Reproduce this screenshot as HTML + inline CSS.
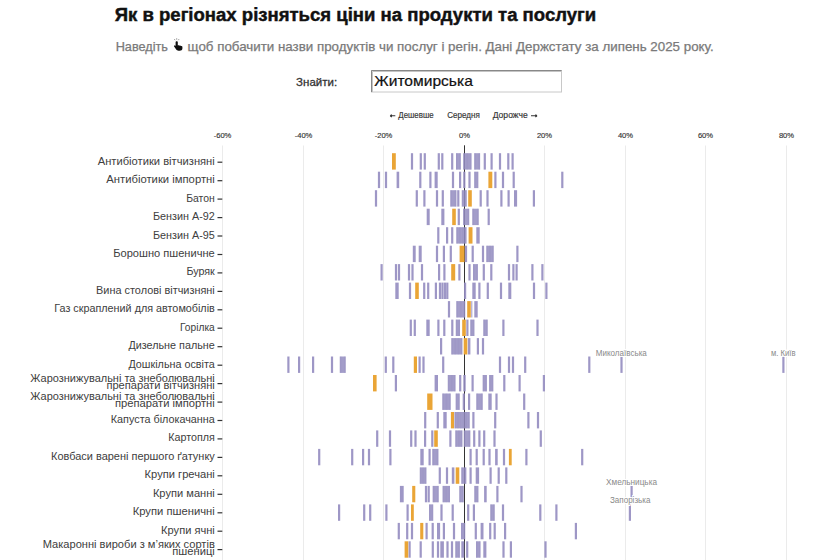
<!DOCTYPE html><html><head><meta charset="utf-8"><style>html,body{margin:0;padding:0;background:#fff;width:814px;height:560px;overflow:hidden}svg{display:block;font-family:"Liberation Sans",sans-serif}</style></head><body>
<svg width="814" height="560" viewBox="0 0 814 560">
<text x="114.7" y="21.2" font-size="18.8" font-weight="bold" fill="#111" stroke="#111" stroke-width="0.45" textLength="481.5" lengthAdjust="spacingAndGlyphs">Як в регіонах різняться ціни на продукти та послуги</text>
<text x="115.7" y="50.6" font-size="12.2" fill="#7a7a7a" stroke="#7a7a7a" stroke-width="0.25" textLength="52.3" lengthAdjust="spacingAndGlyphs">Наведіть</text>
<g transform="translate(172.5,38)" fill="#111"><path d="M4.2 3.2 C4.9 3.2 5.3 3.7 5.3 4.3 L5.3 7.4 C5.6 7.1 6.6 7.1 6.9 7.7 C7.3 7.3 8.3 7.4 8.5 8.1 C8.9 7.8 9.8 8 9.9 8.7 L9.9 10.6 C9.9 12.3 8.6 12.8 7.3 12.8 L5.9 12.8 C4.9 12.8 4.2 12.3 3.7 11.6 L1.6 8.6 C1.3 8.1 1.5 7.5 2 7.4 C2.4 7.3 2.8 7.5 3.1 7.9 L3.1 4.3 C3.1 3.7 3.5 3.2 4.2 3.2Z"/><path d="M4.2 0.2 L4.2 1.8 M1.8 1 L2.6 2.2 M6.6 1 L5.8 2.2" stroke="#777" stroke-width="0.7"/></g>
<text x="187.6" y="50.6" font-size="12.2" fill="#7a7a7a" stroke="#7a7a7a" stroke-width="0.25" textLength="526" lengthAdjust="spacingAndGlyphs">щоб побачити назви продуктів чи послуг і регін. Дані Держстату за липень 2025 року.</text>
<text x="296.1" y="85.7" font-size="11.8" fill="#333" stroke="#333" stroke-width="0.3" textLength="41" lengthAdjust="spacingAndGlyphs">Знайти:</text>
<rect x="371.5" y="70.5" width="190" height="21.5" fill="#fff" stroke="#c8c8c8" stroke-width="1"/>
<path d="M371.5 92 L371.5 70.5 L561.5 70.5" fill="none" stroke="#888" stroke-width="1"/>
<path d="M372.5 92 L372.5 71.5 L561 71.5" fill="none" stroke="#c4c4c4" stroke-width="1"/>
<text x="374.3" y="86.3" font-size="14.2" fill="#111" stroke="#111" stroke-width="0.2" textLength="98.5" lengthAdjust="spacingAndGlyphs">Житомирська</text>
<path d="M390.2 115.8 L395.3 115.8 M390.2 115.8 L391.8 114.6 M390.2 115.8 L391.8 117" stroke="#333" stroke-width="1.1" fill="none"/>
<text x="398.3" y="118.2" font-size="8.2" fill="#333" stroke="#333" stroke-width="0.15" textLength="35.3" lengthAdjust="spacingAndGlyphs">Дешевше</text>
<text x="447.2" y="118.2" font-size="8.2" fill="#333" stroke="#333" stroke-width="0.15" textLength="32.6" lengthAdjust="spacingAndGlyphs">Середня</text>
<text x="492.7" y="118.2" font-size="8.2" fill="#333" stroke="#333" stroke-width="0.15" textLength="35" lengthAdjust="spacingAndGlyphs">Дорожче</text>
<path d="M531 115.8 L537 115.8 M537 115.8 L535.4 114.6 M537 115.8 L535.4 117" stroke="#333" stroke-width="1.1" fill="none"/>
<text x="222.5" y="138" font-size="7.6" fill="#333" stroke="#333" stroke-width="0.15" text-anchor="middle">-60%</text>
<text x="303.5" y="138" font-size="7.6" fill="#333" stroke="#333" stroke-width="0.15" text-anchor="middle">-40%</text>
<text x="383.5" y="138" font-size="7.6" fill="#333" stroke="#333" stroke-width="0.15" text-anchor="middle">-20%</text>
<text x="464.5" y="138" font-size="7.6" fill="#333" stroke="#333" stroke-width="0.15" text-anchor="middle">0%</text>
<text x="544.5" y="138" font-size="7.6" fill="#333" stroke="#333" stroke-width="0.15" text-anchor="middle">20%</text>
<text x="625.5" y="138" font-size="7.6" fill="#333" stroke="#333" stroke-width="0.15" text-anchor="middle">40%</text>
<text x="705.5" y="138" font-size="7.6" fill="#333" stroke="#333" stroke-width="0.15" text-anchor="middle">60%</text>
<text x="786.5" y="138" font-size="7.6" fill="#333" stroke="#333" stroke-width="0.15" text-anchor="middle">80%</text>
<line x1="222.5" y1="145.5" x2="222.5" y2="560" stroke="#ebebeb" stroke-width="1"/>
<line x1="303.5" y1="145.5" x2="303.5" y2="560" stroke="#ebebeb" stroke-width="1"/>
<line x1="383.5" y1="145.5" x2="383.5" y2="560" stroke="#ebebeb" stroke-width="1"/>
<line x1="544.5" y1="145.5" x2="544.5" y2="560" stroke="#ebebeb" stroke-width="1"/>
<line x1="625.5" y1="145.5" x2="625.5" y2="560" stroke="#ebebeb" stroke-width="1"/>
<line x1="705.5" y1="145.5" x2="705.5" y2="560" stroke="#ebebeb" stroke-width="1"/>
<line x1="786.5" y1="145.5" x2="786.5" y2="560" stroke="#ebebeb" stroke-width="1"/>
<line x1="464.5" y1="145.3" x2="464.5" y2="560" stroke="#333" stroke-width="1"/>
<rect x="410.90" y="153.2" width="2.20" height="16.4" fill="#938cc0" fill-opacity="0.9"/>
<rect x="419.70" y="153.2" width="2.20" height="16.4" fill="#938cc0" fill-opacity="0.9"/>
<rect x="423.70" y="153.2" width="2.20" height="16.4" fill="#938cc0" fill-opacity="0.9"/>
<rect x="437.70" y="153.2" width="2.20" height="16.4" fill="#938cc0" fill-opacity="0.9"/>
<rect x="441.20" y="153.2" width="2.20" height="16.4" fill="#938cc0" fill-opacity="0.9"/>
<rect x="451.10" y="153.2" width="2.20" height="16.4" fill="#938cc0" fill-opacity="0.9"/>
<rect x="456.00" y="153.2" width="4.80" height="16.4" fill="#938cc0" fill-opacity="0.85"/>
<rect x="456.00" y="153.2" width="1.6" height="16.4" fill="#938cc0" fill-opacity="0.25"/>
<rect x="459.20" y="153.2" width="1.6" height="16.4" fill="#938cc0" fill-opacity="0.25"/>
<rect x="463.20" y="153.2" width="8.30" height="16.4" fill="#938cc0" fill-opacity="0.85"/>
<rect x="463.20" y="153.2" width="1.6" height="16.4" fill="#938cc0" fill-opacity="0.25"/>
<rect x="466.55" y="153.2" width="1.6" height="16.4" fill="#938cc0" fill-opacity="0.25"/>
<rect x="469.90" y="153.2" width="1.6" height="16.4" fill="#938cc0" fill-opacity="0.25"/>
<rect x="474.20" y="153.2" width="5.90" height="16.4" fill="#938cc0" fill-opacity="0.85"/>
<rect x="474.20" y="153.2" width="1.6" height="16.4" fill="#938cc0" fill-opacity="0.25"/>
<rect x="478.50" y="153.2" width="1.6" height="16.4" fill="#938cc0" fill-opacity="0.25"/>
<rect x="483.70" y="153.2" width="2.20" height="16.4" fill="#938cc0" fill-opacity="0.9"/>
<rect x="490.50" y="153.2" width="2.20" height="16.4" fill="#938cc0" fill-opacity="0.9"/>
<rect x="498.90" y="153.2" width="2.20" height="16.4" fill="#938cc0" fill-opacity="0.9"/>
<rect x="507.20" y="153.2" width="2.20" height="16.4" fill="#938cc0" fill-opacity="0.9"/>
<rect x="511.50" y="153.2" width="2.20" height="16.4" fill="#938cc0" fill-opacity="0.9"/>
<rect x="392.00" y="153.2" width="3.80" height="16.4" fill="#eaa536"/>
<rect x="377.90" y="171.7" width="2.20" height="16.4" fill="#938cc0" fill-opacity="0.9"/>
<rect x="384.90" y="171.7" width="2.20" height="16.4" fill="#938cc0" fill-opacity="0.9"/>
<rect x="396.60" y="171.7" width="2.60" height="16.4" fill="#938cc0" fill-opacity="0.9"/>
<rect x="419.20" y="171.7" width="2.20" height="16.4" fill="#938cc0" fill-opacity="0.9"/>
<rect x="429.30" y="171.7" width="2.20" height="16.4" fill="#938cc0" fill-opacity="0.9"/>
<rect x="434.60" y="171.7" width="3.10" height="16.4" fill="#938cc0" fill-opacity="0.9"/>
<rect x="451.90" y="171.7" width="2.20" height="16.4" fill="#938cc0" fill-opacity="0.9"/>
<rect x="459.00" y="171.7" width="2.20" height="16.4" fill="#938cc0" fill-opacity="0.9"/>
<rect x="463.20" y="171.7" width="2.20" height="16.4" fill="#938cc0" fill-opacity="0.9"/>
<rect x="468.40" y="171.7" width="2.20" height="16.4" fill="#938cc0" fill-opacity="0.9"/>
<rect x="474.20" y="171.7" width="4.10" height="16.4" fill="#938cc0" fill-opacity="0.85"/>
<rect x="474.20" y="171.7" width="1.6" height="16.4" fill="#938cc0" fill-opacity="0.25"/>
<rect x="476.70" y="171.7" width="1.6" height="16.4" fill="#938cc0" fill-opacity="0.25"/>
<rect x="494.30" y="171.7" width="2.20" height="16.4" fill="#938cc0" fill-opacity="0.9"/>
<rect x="501.90" y="171.7" width="2.20" height="16.4" fill="#938cc0" fill-opacity="0.9"/>
<rect x="512.60" y="171.7" width="2.20" height="16.4" fill="#938cc0" fill-opacity="0.9"/>
<rect x="561.20" y="171.7" width="2.20" height="16.4" fill="#938cc0" fill-opacity="0.9"/>
<rect x="488.40" y="171.7" width="3.90" height="16.4" fill="#eaa536"/>
<rect x="374.90" y="190.2" width="2.20" height="16.4" fill="#938cc0" fill-opacity="0.9"/>
<rect x="415.70" y="190.2" width="2.20" height="16.4" fill="#938cc0" fill-opacity="0.9"/>
<rect x="423.30" y="190.2" width="2.20" height="16.4" fill="#938cc0" fill-opacity="0.9"/>
<rect x="435.90" y="190.2" width="2.20" height="16.4" fill="#938cc0" fill-opacity="0.9"/>
<rect x="441.70" y="190.2" width="2.20" height="16.4" fill="#938cc0" fill-opacity="0.9"/>
<rect x="450.30" y="190.2" width="6.10" height="16.4" fill="#938cc0" fill-opacity="0.85"/>
<rect x="450.30" y="190.2" width="1.6" height="16.4" fill="#938cc0" fill-opacity="0.25"/>
<rect x="454.80" y="190.2" width="1.6" height="16.4" fill="#938cc0" fill-opacity="0.25"/>
<rect x="457.20" y="190.2" width="2.20" height="16.4" fill="#938cc0" fill-opacity="0.9"/>
<rect x="461.80" y="190.2" width="4.90" height="16.4" fill="#938cc0" fill-opacity="0.85"/>
<rect x="461.80" y="190.2" width="1.6" height="16.4" fill="#938cc0" fill-opacity="0.25"/>
<rect x="465.10" y="190.2" width="1.6" height="16.4" fill="#938cc0" fill-opacity="0.25"/>
<rect x="479.60" y="190.2" width="2.20" height="16.4" fill="#938cc0" fill-opacity="0.9"/>
<rect x="486.40" y="190.2" width="2.20" height="16.4" fill="#938cc0" fill-opacity="0.9"/>
<rect x="500.30" y="190.2" width="2.20" height="16.4" fill="#938cc0" fill-opacity="0.9"/>
<rect x="507.50" y="190.2" width="2.20" height="16.4" fill="#938cc0" fill-opacity="0.9"/>
<rect x="514.00" y="190.2" width="3.10" height="16.4" fill="#938cc0" fill-opacity="0.9"/>
<rect x="532.80" y="190.2" width="2.20" height="16.4" fill="#938cc0" fill-opacity="0.9"/>
<rect x="468.20" y="190.2" width="3.60" height="16.4" fill="#eaa536"/>
<rect x="426.70" y="208.7" width="3.00" height="16.4" fill="#938cc0" fill-opacity="0.9"/>
<rect x="441.30" y="208.7" width="3.10" height="16.4" fill="#938cc0" fill-opacity="0.9"/>
<rect x="457.70" y="208.7" width="2.20" height="16.4" fill="#938cc0" fill-opacity="0.9"/>
<rect x="463.10" y="208.7" width="6.10" height="16.4" fill="#938cc0" fill-opacity="0.85"/>
<rect x="463.10" y="208.7" width="1.6" height="16.4" fill="#938cc0" fill-opacity="0.25"/>
<rect x="467.60" y="208.7" width="1.6" height="16.4" fill="#938cc0" fill-opacity="0.25"/>
<rect x="472.30" y="208.7" width="6.40" height="16.4" fill="#938cc0" fill-opacity="0.85"/>
<rect x="472.30" y="208.7" width="1.6" height="16.4" fill="#938cc0" fill-opacity="0.25"/>
<rect x="477.10" y="208.7" width="1.6" height="16.4" fill="#938cc0" fill-opacity="0.25"/>
<rect x="487.60" y="208.7" width="2.20" height="16.4" fill="#938cc0" fill-opacity="0.9"/>
<rect x="452.20" y="208.7" width="3.60" height="16.4" fill="#eaa536"/>
<rect x="437.20" y="227.2" width="2.20" height="16.4" fill="#938cc0" fill-opacity="0.9"/>
<rect x="446.00" y="227.2" width="2.20" height="16.4" fill="#938cc0" fill-opacity="0.9"/>
<rect x="451.10" y="227.2" width="2.20" height="16.4" fill="#938cc0" fill-opacity="0.9"/>
<rect x="456.30" y="227.2" width="10.20" height="16.4" fill="#938cc0" fill-opacity="0.85"/>
<rect x="456.30" y="227.2" width="1.6" height="16.4" fill="#938cc0" fill-opacity="0.25"/>
<rect x="459.17" y="227.2" width="1.6" height="16.4" fill="#938cc0" fill-opacity="0.25"/>
<rect x="462.03" y="227.2" width="1.6" height="16.4" fill="#938cc0" fill-opacity="0.25"/>
<rect x="464.90" y="227.2" width="1.6" height="16.4" fill="#938cc0" fill-opacity="0.25"/>
<rect x="476.30" y="227.2" width="3.40" height="16.4" fill="#938cc0" fill-opacity="0.9"/>
<rect x="468.60" y="227.2" width="3.90" height="16.4" fill="#eaa536"/>
<rect x="412.80" y="245.7" width="2.90" height="16.4" fill="#938cc0" fill-opacity="0.9"/>
<rect x="418.70" y="245.7" width="3.00" height="16.4" fill="#938cc0" fill-opacity="0.9"/>
<rect x="435.90" y="245.7" width="2.20" height="16.4" fill="#938cc0" fill-opacity="0.9"/>
<rect x="442.80" y="245.7" width="2.20" height="16.4" fill="#938cc0" fill-opacity="0.9"/>
<rect x="449.70" y="245.7" width="2.20" height="16.4" fill="#938cc0" fill-opacity="0.9"/>
<rect x="464.90" y="245.7" width="2.20" height="16.4" fill="#938cc0" fill-opacity="0.9"/>
<rect x="471.60" y="245.7" width="2.20" height="16.4" fill="#938cc0" fill-opacity="0.9"/>
<rect x="481.90" y="245.7" width="2.20" height="16.4" fill="#938cc0" fill-opacity="0.9"/>
<rect x="486.30" y="245.7" width="7.40" height="16.4" fill="#938cc0" fill-opacity="0.85"/>
<rect x="486.30" y="245.7" width="1.6" height="16.4" fill="#938cc0" fill-opacity="0.25"/>
<rect x="489.20" y="245.7" width="1.6" height="16.4" fill="#938cc0" fill-opacity="0.25"/>
<rect x="492.10" y="245.7" width="1.6" height="16.4" fill="#938cc0" fill-opacity="0.25"/>
<rect x="516.30" y="245.7" width="2.20" height="16.4" fill="#938cc0" fill-opacity="0.9"/>
<rect x="459.60" y="245.7" width="4.90" height="16.4" fill="#eaa536"/>
<rect x="380.50" y="264.1" width="2.20" height="16.4" fill="#938cc0" fill-opacity="0.9"/>
<rect x="394.90" y="264.1" width="2.20" height="16.4" fill="#938cc0" fill-opacity="0.9"/>
<rect x="397.90" y="264.1" width="2.20" height="16.4" fill="#938cc0" fill-opacity="0.9"/>
<rect x="407.90" y="264.1" width="2.20" height="16.4" fill="#938cc0" fill-opacity="0.9"/>
<rect x="411.40" y="264.1" width="2.20" height="16.4" fill="#938cc0" fill-opacity="0.9"/>
<rect x="420.90" y="264.1" width="2.20" height="16.4" fill="#938cc0" fill-opacity="0.9"/>
<rect x="438.00" y="264.1" width="2.20" height="16.4" fill="#938cc0" fill-opacity="0.9"/>
<rect x="443.30" y="264.1" width="2.20" height="16.4" fill="#938cc0" fill-opacity="0.9"/>
<rect x="458.30" y="264.1" width="2.20" height="16.4" fill="#938cc0" fill-opacity="0.9"/>
<rect x="468.40" y="264.1" width="2.20" height="16.4" fill="#938cc0" fill-opacity="0.9"/>
<rect x="473.00" y="264.1" width="4.90" height="16.4" fill="#938cc0" fill-opacity="0.85"/>
<rect x="473.00" y="264.1" width="1.6" height="16.4" fill="#938cc0" fill-opacity="0.25"/>
<rect x="476.30" y="264.1" width="1.6" height="16.4" fill="#938cc0" fill-opacity="0.25"/>
<rect x="482.70" y="264.1" width="2.20" height="16.4" fill="#938cc0" fill-opacity="0.9"/>
<rect x="490.20" y="264.1" width="2.20" height="16.4" fill="#938cc0" fill-opacity="0.9"/>
<rect x="507.90" y="264.1" width="2.20" height="16.4" fill="#938cc0" fill-opacity="0.9"/>
<rect x="512.30" y="264.1" width="2.20" height="16.4" fill="#938cc0" fill-opacity="0.9"/>
<rect x="515.50" y="264.1" width="2.20" height="16.4" fill="#938cc0" fill-opacity="0.9"/>
<rect x="531.30" y="264.1" width="2.20" height="16.4" fill="#938cc0" fill-opacity="0.9"/>
<rect x="541.30" y="264.1" width="2.20" height="16.4" fill="#938cc0" fill-opacity="0.9"/>
<rect x="451.20" y="264.1" width="4.00" height="16.4" fill="#eaa536"/>
<rect x="395.30" y="282.6" width="3.40" height="16.4" fill="#938cc0" fill-opacity="0.9"/>
<rect x="408.90" y="282.6" width="2.20" height="16.4" fill="#938cc0" fill-opacity="0.9"/>
<rect x="423.10" y="282.6" width="2.20" height="16.4" fill="#938cc0" fill-opacity="0.9"/>
<rect x="427.10" y="282.6" width="2.20" height="16.4" fill="#938cc0" fill-opacity="0.9"/>
<rect x="434.80" y="282.6" width="2.20" height="16.4" fill="#938cc0" fill-opacity="0.9"/>
<rect x="438.90" y="282.6" width="2.20" height="16.4" fill="#938cc0" fill-opacity="0.9"/>
<rect x="441.40" y="282.6" width="2.20" height="16.4" fill="#938cc0" fill-opacity="0.9"/>
<rect x="443.90" y="282.6" width="2.20" height="16.4" fill="#938cc0" fill-opacity="0.9"/>
<rect x="446.20" y="282.6" width="2.20" height="16.4" fill="#938cc0" fill-opacity="0.9"/>
<rect x="464.00" y="282.6" width="2.20" height="16.4" fill="#938cc0" fill-opacity="0.9"/>
<rect x="472.30" y="282.6" width="3.40" height="16.4" fill="#938cc0" fill-opacity="0.9"/>
<rect x="478.30" y="282.6" width="2.20" height="16.4" fill="#938cc0" fill-opacity="0.9"/>
<rect x="486.70" y="282.6" width="2.20" height="16.4" fill="#938cc0" fill-opacity="0.9"/>
<rect x="499.90" y="282.6" width="2.20" height="16.4" fill="#938cc0" fill-opacity="0.9"/>
<rect x="508.30" y="282.6" width="3.00" height="16.4" fill="#938cc0" fill-opacity="0.9"/>
<rect x="532.90" y="282.6" width="2.20" height="16.4" fill="#938cc0" fill-opacity="0.9"/>
<rect x="545.30" y="282.6" width="2.20" height="16.4" fill="#938cc0" fill-opacity="0.9"/>
<rect x="415.20" y="282.6" width="3.60" height="16.4" fill="#eaa536"/>
<rect x="447.90" y="301.1" width="2.20" height="16.4" fill="#938cc0" fill-opacity="0.9"/>
<rect x="456.30" y="301.1" width="8.90" height="16.4" fill="#938cc0" fill-opacity="0.85"/>
<rect x="456.30" y="301.1" width="1.6" height="16.4" fill="#938cc0" fill-opacity="0.25"/>
<rect x="459.95" y="301.1" width="1.6" height="16.4" fill="#938cc0" fill-opacity="0.25"/>
<rect x="463.60" y="301.1" width="1.6" height="16.4" fill="#938cc0" fill-opacity="0.25"/>
<rect x="471.30" y="301.1" width="1.00" height="16.4" fill="#938cc0" fill-opacity="0.9"/>
<rect x="474.30" y="301.1" width="3.40" height="16.4" fill="#938cc0" fill-opacity="0.9"/>
<rect x="467.20" y="301.1" width="3.60" height="16.4" fill="#eaa536"/>
<rect x="409.70" y="319.6" width="2.20" height="16.4" fill="#938cc0" fill-opacity="0.9"/>
<rect x="413.70" y="319.6" width="2.20" height="16.4" fill="#938cc0" fill-opacity="0.9"/>
<rect x="426.30" y="319.6" width="3.40" height="16.4" fill="#938cc0" fill-opacity="0.9"/>
<rect x="437.30" y="319.6" width="2.20" height="16.4" fill="#938cc0" fill-opacity="0.9"/>
<rect x="443.20" y="319.6" width="2.20" height="16.4" fill="#938cc0" fill-opacity="0.9"/>
<rect x="451.20" y="319.6" width="2.20" height="16.4" fill="#938cc0" fill-opacity="0.9"/>
<rect x="455.80" y="319.6" width="4.20" height="16.4" fill="#938cc0" fill-opacity="0.85"/>
<rect x="455.80" y="319.6" width="1.6" height="16.4" fill="#938cc0" fill-opacity="0.25"/>
<rect x="458.40" y="319.6" width="1.6" height="16.4" fill="#938cc0" fill-opacity="0.25"/>
<rect x="466.30" y="319.6" width="2.20" height="16.4" fill="#938cc0" fill-opacity="0.9"/>
<rect x="470.30" y="319.6" width="4.10" height="16.4" fill="#938cc0" fill-opacity="0.85"/>
<rect x="470.30" y="319.6" width="1.6" height="16.4" fill="#938cc0" fill-opacity="0.25"/>
<rect x="472.80" y="319.6" width="1.6" height="16.4" fill="#938cc0" fill-opacity="0.25"/>
<rect x="483.30" y="319.6" width="4.40" height="16.4" fill="#938cc0" fill-opacity="0.85"/>
<rect x="483.30" y="319.6" width="1.6" height="16.4" fill="#938cc0" fill-opacity="0.25"/>
<rect x="486.10" y="319.6" width="1.6" height="16.4" fill="#938cc0" fill-opacity="0.25"/>
<rect x="502.30" y="319.6" width="2.20" height="16.4" fill="#938cc0" fill-opacity="0.9"/>
<rect x="536.40" y="319.6" width="2.20" height="16.4" fill="#938cc0" fill-opacity="0.9"/>
<rect x="462.20" y="319.6" width="3.60" height="16.4" fill="#eaa536"/>
<rect x="440.00" y="338.1" width="2.20" height="16.4" fill="#938cc0" fill-opacity="0.9"/>
<rect x="451.30" y="338.1" width="11.10" height="16.4" fill="#938cc0" fill-opacity="0.85"/>
<rect x="451.30" y="338.1" width="1.6" height="16.4" fill="#938cc0" fill-opacity="0.25"/>
<rect x="454.47" y="338.1" width="1.6" height="16.4" fill="#938cc0" fill-opacity="0.25"/>
<rect x="457.63" y="338.1" width="1.6" height="16.4" fill="#938cc0" fill-opacity="0.25"/>
<rect x="460.80" y="338.1" width="1.6" height="16.4" fill="#938cc0" fill-opacity="0.25"/>
<rect x="467.80" y="338.1" width="2.60" height="16.4" fill="#938cc0" fill-opacity="0.9"/>
<rect x="476.80" y="338.1" width="2.20" height="16.4" fill="#938cc0" fill-opacity="0.9"/>
<rect x="481.90" y="338.1" width="2.20" height="16.4" fill="#938cc0" fill-opacity="0.9"/>
<rect x="463.70" y="338.1" width="3.60" height="16.4" fill="#eaa536"/>
<rect x="287.30" y="356.5" width="2.20" height="16.4" fill="#938cc0" fill-opacity="0.9"/>
<rect x="298.00" y="356.5" width="2.20" height="16.4" fill="#938cc0" fill-opacity="0.9"/>
<rect x="312.00" y="356.5" width="2.20" height="16.4" fill="#938cc0" fill-opacity="0.9"/>
<rect x="330.90" y="356.5" width="2.20" height="16.4" fill="#938cc0" fill-opacity="0.9"/>
<rect x="339.80" y="356.5" width="5.90" height="16.4" fill="#938cc0" fill-opacity="0.85"/>
<rect x="339.80" y="356.5" width="1.6" height="16.4" fill="#938cc0" fill-opacity="0.25"/>
<rect x="344.10" y="356.5" width="1.6" height="16.4" fill="#938cc0" fill-opacity="0.25"/>
<rect x="384.70" y="356.5" width="2.20" height="16.4" fill="#938cc0" fill-opacity="0.9"/>
<rect x="392.20" y="356.5" width="2.20" height="16.4" fill="#938cc0" fill-opacity="0.9"/>
<rect x="418.50" y="356.5" width="2.20" height="16.4" fill="#938cc0" fill-opacity="0.9"/>
<rect x="422.40" y="356.5" width="2.20" height="16.4" fill="#938cc0" fill-opacity="0.9"/>
<rect x="442.10" y="356.5" width="2.20" height="16.4" fill="#938cc0" fill-opacity="0.9"/>
<rect x="498.90" y="356.5" width="2.20" height="16.4" fill="#938cc0" fill-opacity="0.9"/>
<rect x="507.90" y="356.5" width="2.20" height="16.4" fill="#938cc0" fill-opacity="0.9"/>
<rect x="511.90" y="356.5" width="2.20" height="16.4" fill="#938cc0" fill-opacity="0.9"/>
<rect x="524.10" y="356.5" width="2.20" height="16.4" fill="#938cc0" fill-opacity="0.9"/>
<rect x="588.20" y="356.5" width="2.20" height="16.4" fill="#938cc0" fill-opacity="0.9"/>
<rect x="620.40" y="356.5" width="2.20" height="16.4" fill="#938cc0" fill-opacity="0.9"/>
<rect x="782.30" y="356.5" width="2.20" height="16.4" fill="#938cc0" fill-opacity="0.9"/>
<rect x="413.80" y="356.5" width="3.20" height="16.4" fill="#eaa536"/>
<rect x="394.80" y="375.0" width="2.20" height="16.4" fill="#938cc0" fill-opacity="0.9"/>
<rect x="434.60" y="375.0" width="3.40" height="16.4" fill="#938cc0" fill-opacity="0.9"/>
<rect x="447.80" y="375.0" width="7.70" height="16.4" fill="#938cc0" fill-opacity="0.85"/>
<rect x="447.80" y="375.0" width="1.6" height="16.4" fill="#938cc0" fill-opacity="0.25"/>
<rect x="450.85" y="375.0" width="1.6" height="16.4" fill="#938cc0" fill-opacity="0.25"/>
<rect x="453.90" y="375.0" width="1.6" height="16.4" fill="#938cc0" fill-opacity="0.25"/>
<rect x="459.10" y="375.0" width="2.20" height="16.4" fill="#938cc0" fill-opacity="0.9"/>
<rect x="463.30" y="375.0" width="2.40" height="16.4" fill="#938cc0" fill-opacity="0.9"/>
<rect x="471.50" y="375.0" width="2.20" height="16.4" fill="#938cc0" fill-opacity="0.9"/>
<rect x="482.70" y="375.0" width="4.20" height="16.4" fill="#938cc0" fill-opacity="0.85"/>
<rect x="482.70" y="375.0" width="1.6" height="16.4" fill="#938cc0" fill-opacity="0.25"/>
<rect x="485.30" y="375.0" width="1.6" height="16.4" fill="#938cc0" fill-opacity="0.25"/>
<rect x="489.10" y="375.0" width="4.20" height="16.4" fill="#938cc0" fill-opacity="0.85"/>
<rect x="489.10" y="375.0" width="1.6" height="16.4" fill="#938cc0" fill-opacity="0.25"/>
<rect x="491.70" y="375.0" width="1.6" height="16.4" fill="#938cc0" fill-opacity="0.25"/>
<rect x="503.20" y="375.0" width="2.20" height="16.4" fill="#938cc0" fill-opacity="0.9"/>
<rect x="518.50" y="375.0" width="2.20" height="16.4" fill="#938cc0" fill-opacity="0.9"/>
<rect x="542.80" y="375.0" width="2.20" height="16.4" fill="#938cc0" fill-opacity="0.9"/>
<rect x="373.00" y="375.0" width="3.60" height="16.4" fill="#eaa536"/>
<rect x="442.30" y="393.5" width="8.40" height="16.4" fill="#938cc0" fill-opacity="0.85"/>
<rect x="442.30" y="393.5" width="1.6" height="16.4" fill="#938cc0" fill-opacity="0.25"/>
<rect x="445.70" y="393.5" width="1.6" height="16.4" fill="#938cc0" fill-opacity="0.25"/>
<rect x="449.10" y="393.5" width="1.6" height="16.4" fill="#938cc0" fill-opacity="0.25"/>
<rect x="455.70" y="393.5" width="4.00" height="16.4" fill="#938cc0" fill-opacity="0.85"/>
<rect x="455.70" y="393.5" width="1.6" height="16.4" fill="#938cc0" fill-opacity="0.25"/>
<rect x="458.10" y="393.5" width="1.6" height="16.4" fill="#938cc0" fill-opacity="0.25"/>
<rect x="462.70" y="393.5" width="2.20" height="16.4" fill="#938cc0" fill-opacity="0.9"/>
<rect x="468.00" y="393.5" width="2.20" height="16.4" fill="#938cc0" fill-opacity="0.9"/>
<rect x="476.30" y="393.5" width="6.40" height="16.4" fill="#938cc0" fill-opacity="0.85"/>
<rect x="476.30" y="393.5" width="1.6" height="16.4" fill="#938cc0" fill-opacity="0.25"/>
<rect x="481.10" y="393.5" width="1.6" height="16.4" fill="#938cc0" fill-opacity="0.25"/>
<rect x="488.30" y="393.5" width="3.40" height="16.4" fill="#938cc0" fill-opacity="0.9"/>
<rect x="495.40" y="393.5" width="2.20" height="16.4" fill="#938cc0" fill-opacity="0.9"/>
<rect x="523.10" y="393.5" width="2.20" height="16.4" fill="#938cc0" fill-opacity="0.9"/>
<rect x="427.20" y="393.5" width="5.30" height="16.4" fill="#eaa536"/>
<rect x="424.10" y="412.0" width="2.20" height="16.4" fill="#938cc0" fill-opacity="0.9"/>
<rect x="436.70" y="412.0" width="2.20" height="16.4" fill="#938cc0" fill-opacity="0.9"/>
<rect x="443.30" y="412.0" width="3.40" height="16.4" fill="#938cc0" fill-opacity="0.9"/>
<rect x="454.50" y="412.0" width="15.20" height="16.4" fill="#938cc0" fill-opacity="0.85"/>
<rect x="454.50" y="412.0" width="1.6" height="16.4" fill="#938cc0" fill-opacity="0.25"/>
<rect x="457.22" y="412.0" width="1.6" height="16.4" fill="#938cc0" fill-opacity="0.25"/>
<rect x="459.94" y="412.0" width="1.6" height="16.4" fill="#938cc0" fill-opacity="0.25"/>
<rect x="462.66" y="412.0" width="1.6" height="16.4" fill="#938cc0" fill-opacity="0.25"/>
<rect x="465.38" y="412.0" width="1.6" height="16.4" fill="#938cc0" fill-opacity="0.25"/>
<rect x="468.10" y="412.0" width="1.6" height="16.4" fill="#938cc0" fill-opacity="0.25"/>
<rect x="472.30" y="412.0" width="2.20" height="16.4" fill="#938cc0" fill-opacity="0.9"/>
<rect x="494.10" y="412.0" width="2.20" height="16.4" fill="#938cc0" fill-opacity="0.9"/>
<rect x="527.30" y="412.0" width="2.20" height="16.4" fill="#938cc0" fill-opacity="0.9"/>
<rect x="536.90" y="412.0" width="2.20" height="16.4" fill="#938cc0" fill-opacity="0.9"/>
<rect x="450.90" y="412.0" width="3.10" height="16.4" fill="#eaa536"/>
<rect x="376.10" y="430.4" width="2.20" height="16.4" fill="#938cc0" fill-opacity="0.9"/>
<rect x="388.90" y="430.4" width="2.20" height="16.4" fill="#938cc0" fill-opacity="0.9"/>
<rect x="410.10" y="430.4" width="2.20" height="16.4" fill="#938cc0" fill-opacity="0.9"/>
<rect x="414.40" y="430.4" width="2.20" height="16.4" fill="#938cc0" fill-opacity="0.9"/>
<rect x="424.00" y="430.4" width="2.20" height="16.4" fill="#938cc0" fill-opacity="0.9"/>
<rect x="431.20" y="430.4" width="2.20" height="16.4" fill="#938cc0" fill-opacity="0.9"/>
<rect x="449.30" y="430.4" width="2.20" height="16.4" fill="#938cc0" fill-opacity="0.9"/>
<rect x="455.30" y="430.4" width="7.10" height="16.4" fill="#938cc0" fill-opacity="0.85"/>
<rect x="455.30" y="430.4" width="1.6" height="16.4" fill="#938cc0" fill-opacity="0.25"/>
<rect x="458.05" y="430.4" width="1.6" height="16.4" fill="#938cc0" fill-opacity="0.25"/>
<rect x="460.80" y="430.4" width="1.6" height="16.4" fill="#938cc0" fill-opacity="0.25"/>
<rect x="463.80" y="430.4" width="6.50" height="16.4" fill="#938cc0" fill-opacity="0.85"/>
<rect x="463.80" y="430.4" width="1.6" height="16.4" fill="#938cc0" fill-opacity="0.25"/>
<rect x="468.70" y="430.4" width="1.6" height="16.4" fill="#938cc0" fill-opacity="0.25"/>
<rect x="473.10" y="430.4" width="2.20" height="16.4" fill="#938cc0" fill-opacity="0.9"/>
<rect x="478.30" y="430.4" width="2.20" height="16.4" fill="#938cc0" fill-opacity="0.9"/>
<rect x="483.10" y="430.4" width="2.20" height="16.4" fill="#938cc0" fill-opacity="0.9"/>
<rect x="493.40" y="430.4" width="2.20" height="16.4" fill="#938cc0" fill-opacity="0.9"/>
<rect x="539.70" y="430.4" width="2.20" height="16.4" fill="#938cc0" fill-opacity="0.9"/>
<rect x="434.20" y="430.4" width="3.60" height="16.4" fill="#eaa536"/>
<rect x="318.10" y="448.9" width="2.20" height="16.4" fill="#938cc0" fill-opacity="0.9"/>
<rect x="351.10" y="448.9" width="2.20" height="16.4" fill="#938cc0" fill-opacity="0.9"/>
<rect x="362.00" y="448.9" width="2.20" height="16.4" fill="#938cc0" fill-opacity="0.9"/>
<rect x="367.90" y="448.9" width="2.20" height="16.4" fill="#938cc0" fill-opacity="0.9"/>
<rect x="389.30" y="448.9" width="2.20" height="16.4" fill="#938cc0" fill-opacity="0.9"/>
<rect x="420.30" y="448.9" width="3.40" height="16.4" fill="#938cc0" fill-opacity="0.9"/>
<rect x="428.50" y="448.9" width="2.20" height="16.4" fill="#938cc0" fill-opacity="0.9"/>
<rect x="432.30" y="448.9" width="6.10" height="16.4" fill="#938cc0" fill-opacity="0.85"/>
<rect x="432.30" y="448.9" width="1.6" height="16.4" fill="#938cc0" fill-opacity="0.25"/>
<rect x="436.80" y="448.9" width="1.6" height="16.4" fill="#938cc0" fill-opacity="0.25"/>
<rect x="469.50" y="448.9" width="2.20" height="16.4" fill="#938cc0" fill-opacity="0.9"/>
<rect x="475.60" y="448.9" width="2.20" height="16.4" fill="#938cc0" fill-opacity="0.9"/>
<rect x="482.60" y="448.9" width="2.20" height="16.4" fill="#938cc0" fill-opacity="0.9"/>
<rect x="488.40" y="448.9" width="2.20" height="16.4" fill="#938cc0" fill-opacity="0.9"/>
<rect x="495.10" y="448.9" width="2.60" height="16.4" fill="#938cc0" fill-opacity="0.9"/>
<rect x="502.90" y="448.9" width="2.20" height="16.4" fill="#938cc0" fill-opacity="0.9"/>
<rect x="525.30" y="448.9" width="2.20" height="16.4" fill="#938cc0" fill-opacity="0.9"/>
<rect x="581.10" y="448.9" width="2.20" height="16.4" fill="#938cc0" fill-opacity="0.9"/>
<rect x="508.90" y="448.9" width="2.80" height="16.4" fill="#eaa536"/>
<rect x="419.80" y="467.4" width="6.60" height="16.4" fill="#938cc0" fill-opacity="0.85"/>
<rect x="419.80" y="467.4" width="1.6" height="16.4" fill="#938cc0" fill-opacity="0.25"/>
<rect x="422.30" y="467.4" width="1.6" height="16.4" fill="#938cc0" fill-opacity="0.25"/>
<rect x="424.80" y="467.4" width="1.6" height="16.4" fill="#938cc0" fill-opacity="0.25"/>
<rect x="438.70" y="467.4" width="2.20" height="16.4" fill="#938cc0" fill-opacity="0.9"/>
<rect x="445.90" y="467.4" width="2.20" height="16.4" fill="#938cc0" fill-opacity="0.9"/>
<rect x="451.80" y="467.4" width="2.60" height="16.4" fill="#938cc0" fill-opacity="0.9"/>
<rect x="461.30" y="467.4" width="5.00" height="16.4" fill="#938cc0" fill-opacity="0.85"/>
<rect x="461.30" y="467.4" width="1.6" height="16.4" fill="#938cc0" fill-opacity="0.25"/>
<rect x="464.70" y="467.4" width="1.6" height="16.4" fill="#938cc0" fill-opacity="0.25"/>
<rect x="469.50" y="467.4" width="2.20" height="16.4" fill="#938cc0" fill-opacity="0.9"/>
<rect x="475.70" y="467.4" width="3.40" height="16.4" fill="#938cc0" fill-opacity="0.9"/>
<rect x="489.50" y="467.4" width="2.20" height="16.4" fill="#938cc0" fill-opacity="0.9"/>
<rect x="497.60" y="467.4" width="2.20" height="16.4" fill="#938cc0" fill-opacity="0.9"/>
<rect x="505.20" y="467.4" width="2.20" height="16.4" fill="#938cc0" fill-opacity="0.9"/>
<rect x="455.70" y="467.4" width="3.60" height="16.4" fill="#eaa536"/>
<rect x="399.90" y="485.9" width="3.80" height="16.4" fill="#938cc0" fill-opacity="0.9"/>
<rect x="424.90" y="485.9" width="2.20" height="16.4" fill="#938cc0" fill-opacity="0.9"/>
<rect x="427.60" y="485.9" width="2.20" height="16.4" fill="#938cc0" fill-opacity="0.9"/>
<rect x="432.70" y="485.9" width="6.00" height="16.4" fill="#938cc0" fill-opacity="0.85"/>
<rect x="432.70" y="485.9" width="1.6" height="16.4" fill="#938cc0" fill-opacity="0.25"/>
<rect x="437.10" y="485.9" width="1.6" height="16.4" fill="#938cc0" fill-opacity="0.25"/>
<rect x="442.60" y="485.9" width="7.40" height="16.4" fill="#938cc0" fill-opacity="0.85"/>
<rect x="442.60" y="485.9" width="1.6" height="16.4" fill="#938cc0" fill-opacity="0.25"/>
<rect x="445.50" y="485.9" width="1.6" height="16.4" fill="#938cc0" fill-opacity="0.25"/>
<rect x="448.40" y="485.9" width="1.6" height="16.4" fill="#938cc0" fill-opacity="0.25"/>
<rect x="459.30" y="485.9" width="4.40" height="16.4" fill="#938cc0" fill-opacity="0.85"/>
<rect x="459.30" y="485.9" width="1.6" height="16.4" fill="#938cc0" fill-opacity="0.25"/>
<rect x="462.10" y="485.9" width="1.6" height="16.4" fill="#938cc0" fill-opacity="0.25"/>
<rect x="474.30" y="485.9" width="4.10" height="16.4" fill="#938cc0" fill-opacity="0.85"/>
<rect x="474.30" y="485.9" width="1.6" height="16.4" fill="#938cc0" fill-opacity="0.25"/>
<rect x="476.80" y="485.9" width="1.6" height="16.4" fill="#938cc0" fill-opacity="0.25"/>
<rect x="484.10" y="485.9" width="2.60" height="16.4" fill="#938cc0" fill-opacity="0.9"/>
<rect x="496.30" y="485.9" width="2.20" height="16.4" fill="#938cc0" fill-opacity="0.9"/>
<rect x="520.40" y="485.9" width="2.20" height="16.4" fill="#938cc0" fill-opacity="0.9"/>
<rect x="630.50" y="485.9" width="2.20" height="16.4" fill="#938cc0" fill-opacity="0.9"/>
<rect x="412.20" y="485.9" width="3.10" height="16.4" fill="#eaa536"/>
<rect x="338.00" y="504.4" width="2.20" height="16.4" fill="#938cc0" fill-opacity="0.9"/>
<rect x="363.10" y="504.4" width="2.20" height="16.4" fill="#938cc0" fill-opacity="0.9"/>
<rect x="369.10" y="504.4" width="2.20" height="16.4" fill="#938cc0" fill-opacity="0.9"/>
<rect x="385.30" y="504.4" width="2.20" height="16.4" fill="#938cc0" fill-opacity="0.9"/>
<rect x="406.50" y="504.4" width="2.20" height="16.4" fill="#938cc0" fill-opacity="0.9"/>
<rect x="429.00" y="504.4" width="4.20" height="16.4" fill="#938cc0" fill-opacity="0.85"/>
<rect x="429.00" y="504.4" width="1.6" height="16.4" fill="#938cc0" fill-opacity="0.25"/>
<rect x="431.60" y="504.4" width="1.6" height="16.4" fill="#938cc0" fill-opacity="0.25"/>
<rect x="440.40" y="504.4" width="2.20" height="16.4" fill="#938cc0" fill-opacity="0.9"/>
<rect x="451.60" y="504.4" width="2.20" height="16.4" fill="#938cc0" fill-opacity="0.9"/>
<rect x="467.10" y="504.4" width="2.20" height="16.4" fill="#938cc0" fill-opacity="0.9"/>
<rect x="472.80" y="504.4" width="2.20" height="16.4" fill="#938cc0" fill-opacity="0.9"/>
<rect x="490.30" y="504.4" width="4.40" height="16.4" fill="#938cc0" fill-opacity="0.85"/>
<rect x="490.30" y="504.4" width="1.6" height="16.4" fill="#938cc0" fill-opacity="0.25"/>
<rect x="493.10" y="504.4" width="1.6" height="16.4" fill="#938cc0" fill-opacity="0.25"/>
<rect x="501.90" y="504.4" width="2.20" height="16.4" fill="#938cc0" fill-opacity="0.9"/>
<rect x="539.20" y="504.4" width="2.20" height="16.4" fill="#938cc0" fill-opacity="0.9"/>
<rect x="555.30" y="504.4" width="2.20" height="16.4" fill="#938cc0" fill-opacity="0.9"/>
<rect x="628.80" y="504.4" width="2.20" height="16.4" fill="#938cc0" fill-opacity="0.9"/>
<rect x="411.00" y="504.4" width="2.80" height="16.4" fill="#eaa536"/>
<rect x="397.70" y="522.9" width="2.20" height="16.4" fill="#938cc0" fill-opacity="0.9"/>
<rect x="406.10" y="522.9" width="2.20" height="16.4" fill="#938cc0" fill-opacity="0.9"/>
<rect x="410.90" y="522.9" width="2.20" height="16.4" fill="#938cc0" fill-opacity="0.9"/>
<rect x="425.50" y="522.9" width="2.20" height="16.4" fill="#938cc0" fill-opacity="0.9"/>
<rect x="431.60" y="522.9" width="2.20" height="16.4" fill="#938cc0" fill-opacity="0.9"/>
<rect x="437.00" y="522.9" width="3.10" height="16.4" fill="#938cc0" fill-opacity="0.9"/>
<rect x="442.80" y="522.9" width="2.20" height="16.4" fill="#938cc0" fill-opacity="0.9"/>
<rect x="452.90" y="522.9" width="2.20" height="16.4" fill="#938cc0" fill-opacity="0.9"/>
<rect x="461.00" y="522.9" width="4.20" height="16.4" fill="#938cc0" fill-opacity="0.85"/>
<rect x="461.00" y="522.9" width="1.6" height="16.4" fill="#938cc0" fill-opacity="0.25"/>
<rect x="463.60" y="522.9" width="1.6" height="16.4" fill="#938cc0" fill-opacity="0.25"/>
<rect x="474.70" y="522.9" width="2.20" height="16.4" fill="#938cc0" fill-opacity="0.9"/>
<rect x="480.60" y="522.9" width="2.90" height="16.4" fill="#938cc0" fill-opacity="0.9"/>
<rect x="489.10" y="522.9" width="2.20" height="16.4" fill="#938cc0" fill-opacity="0.9"/>
<rect x="493.60" y="522.9" width="2.20" height="16.4" fill="#938cc0" fill-opacity="0.9"/>
<rect x="504.00" y="522.9" width="2.20" height="16.4" fill="#938cc0" fill-opacity="0.9"/>
<rect x="574.80" y="522.9" width="2.20" height="16.4" fill="#938cc0" fill-opacity="0.9"/>
<rect x="420.20" y="522.9" width="3.10" height="16.4" fill="#eaa536"/>
<rect x="408.50" y="541.3" width="2.20" height="16.4" fill="#938cc0" fill-opacity="0.9"/>
<rect x="419.60" y="541.3" width="2.20" height="16.4" fill="#938cc0" fill-opacity="0.9"/>
<rect x="431.70" y="541.3" width="2.20" height="16.4" fill="#938cc0" fill-opacity="0.9"/>
<rect x="436.90" y="541.3" width="2.20" height="16.4" fill="#938cc0" fill-opacity="0.9"/>
<rect x="440.30" y="541.3" width="3.60" height="16.4" fill="#938cc0" fill-opacity="0.9"/>
<rect x="446.40" y="541.3" width="2.20" height="16.4" fill="#938cc0" fill-opacity="0.9"/>
<rect x="450.90" y="541.3" width="2.20" height="16.4" fill="#938cc0" fill-opacity="0.9"/>
<rect x="455.30" y="541.3" width="4.60" height="16.4" fill="#938cc0" fill-opacity="0.85"/>
<rect x="455.30" y="541.3" width="1.6" height="16.4" fill="#938cc0" fill-opacity="0.25"/>
<rect x="458.30" y="541.3" width="1.6" height="16.4" fill="#938cc0" fill-opacity="0.25"/>
<rect x="461.30" y="541.3" width="3.00" height="16.4" fill="#938cc0" fill-opacity="0.9"/>
<rect x="466.10" y="541.3" width="2.20" height="16.4" fill="#938cc0" fill-opacity="0.9"/>
<rect x="476.00" y="541.3" width="4.50" height="16.4" fill="#938cc0" fill-opacity="0.85"/>
<rect x="476.00" y="541.3" width="1.6" height="16.4" fill="#938cc0" fill-opacity="0.25"/>
<rect x="478.90" y="541.3" width="1.6" height="16.4" fill="#938cc0" fill-opacity="0.25"/>
<rect x="483.30" y="541.3" width="3.10" height="16.4" fill="#938cc0" fill-opacity="0.9"/>
<rect x="502.40" y="541.3" width="2.20" height="16.4" fill="#938cc0" fill-opacity="0.9"/>
<rect x="509.80" y="541.3" width="2.20" height="16.4" fill="#938cc0" fill-opacity="0.9"/>
<rect x="544.40" y="541.3" width="2.20" height="16.4" fill="#938cc0" fill-opacity="0.9"/>
<rect x="404.60" y="541.3" width="3.60" height="16.4" fill="#eaa536"/>
<line x1="217.5" y1="162.2" x2="222.3" y2="162.2" stroke="#333" stroke-width="1.2"/>
<text x="214.8" y="164.7" font-size="11" fill="#404040" text-anchor="end" textLength="117.1" lengthAdjust="spacingAndGlyphs">Антибіотики вітчизняні</text>
<line x1="217.5" y1="180.7" x2="222.3" y2="180.7" stroke="#333" stroke-width="1.2"/>
<text x="214.8" y="183.2" font-size="11" fill="#404040" text-anchor="end" textLength="108.5" lengthAdjust="spacingAndGlyphs">Антибіотики імпортні</text>
<line x1="217.5" y1="199.1" x2="222.3" y2="199.1" stroke="#333" stroke-width="1.2"/>
<text x="214.8" y="201.6" font-size="11" fill="#404040" text-anchor="end" textLength="28.6" lengthAdjust="spacingAndGlyphs">Батон</text>
<line x1="217.5" y1="217.6" x2="222.3" y2="217.6" stroke="#333" stroke-width="1.2"/>
<text x="214.8" y="220.1" font-size="11" fill="#404040" text-anchor="end" textLength="61.8" lengthAdjust="spacingAndGlyphs">Бензин А-92</text>
<line x1="217.5" y1="236.0" x2="222.3" y2="236.0" stroke="#333" stroke-width="1.2"/>
<text x="214.8" y="238.5" font-size="11" fill="#404040" text-anchor="end" textLength="61.8" lengthAdjust="spacingAndGlyphs">Бензин А-95</text>
<line x1="217.5" y1="254.5" x2="222.3" y2="254.5" stroke="#333" stroke-width="1.2"/>
<text x="214.8" y="256.9" font-size="11" fill="#404040" text-anchor="end" textLength="101.6" lengthAdjust="spacingAndGlyphs">Борошно пшеничне</text>
<line x1="217.5" y1="272.9" x2="222.3" y2="272.9" stroke="#333" stroke-width="1.2"/>
<text x="214.8" y="275.4" font-size="11" fill="#404040" text-anchor="end" textLength="28.4" lengthAdjust="spacingAndGlyphs">Буряк</text>
<line x1="217.5" y1="291.4" x2="222.3" y2="291.4" stroke="#333" stroke-width="1.2"/>
<text x="214.8" y="293.9" font-size="11" fill="#404040" text-anchor="end" textLength="118.7" lengthAdjust="spacingAndGlyphs">Вина столові вітчизняні</text>
<line x1="217.5" y1="309.8" x2="222.3" y2="309.8" stroke="#333" stroke-width="1.2"/>
<text x="214.8" y="312.3" font-size="11" fill="#404040" text-anchor="end" textLength="160.5" lengthAdjust="spacingAndGlyphs">Газ скраплений для автомобілів</text>
<line x1="217.5" y1="328.2" x2="222.3" y2="328.2" stroke="#333" stroke-width="1.2"/>
<text x="214.8" y="330.8" font-size="11" fill="#404040" text-anchor="end" textLength="34.8" lengthAdjust="spacingAndGlyphs">Горілка</text>
<line x1="217.5" y1="346.7" x2="222.3" y2="346.7" stroke="#333" stroke-width="1.2"/>
<text x="214.8" y="349.2" font-size="11" fill="#404040" text-anchor="end" textLength="86.4" lengthAdjust="spacingAndGlyphs">Дизельне пальне</text>
<line x1="217.5" y1="365.2" x2="222.3" y2="365.2" stroke="#333" stroke-width="1.2"/>
<text x="214.8" y="367.7" font-size="11" fill="#404040" text-anchor="end" textLength="86.4" lengthAdjust="spacingAndGlyphs">Дошкільна освіта</text>
<line x1="217.5" y1="383.6" x2="222.3" y2="383.6" stroke="#333" stroke-width="1.2"/>
<text x="214.8" y="381.7" font-size="11" fill="#404040" text-anchor="end" textLength="184.5" lengthAdjust="spacingAndGlyphs">Жарознижувальні та знеболювальні</text>
<text x="214.8" y="388.8" font-size="11" fill="#404040" text-anchor="end" textLength="108.4" lengthAdjust="spacingAndGlyphs">препарати вітчизняні</text>
<line x1="217.5" y1="402.1" x2="222.3" y2="402.1" stroke="#333" stroke-width="1.2"/>
<text x="214.8" y="400.1" font-size="11" fill="#404040" text-anchor="end" textLength="184.5" lengthAdjust="spacingAndGlyphs">Жарознижувальні та знеболювальні</text>
<text x="214.8" y="407.2" font-size="11" fill="#404040" text-anchor="end" textLength="99.8" lengthAdjust="spacingAndGlyphs">препарати імпортні</text>
<line x1="217.5" y1="420.5" x2="222.3" y2="420.5" stroke="#333" stroke-width="1.2"/>
<text x="214.8" y="423.0" font-size="11" fill="#404040" text-anchor="end" textLength="104.0" lengthAdjust="spacingAndGlyphs">Капуста білокачанна</text>
<line x1="217.5" y1="438.9" x2="222.3" y2="438.9" stroke="#333" stroke-width="1.2"/>
<text x="214.8" y="441.4" font-size="11" fill="#404040" text-anchor="end" textLength="46.5" lengthAdjust="spacingAndGlyphs">Картопля</text>
<line x1="217.5" y1="457.4" x2="222.3" y2="457.4" stroke="#333" stroke-width="1.2"/>
<text x="214.8" y="459.9" font-size="11" fill="#404040" text-anchor="end" textLength="163.8" lengthAdjust="spacingAndGlyphs">Ковбаси варені першого ґатунку</text>
<line x1="217.5" y1="475.8" x2="222.3" y2="475.8" stroke="#333" stroke-width="1.2"/>
<text x="214.8" y="478.3" font-size="11" fill="#404040" text-anchor="end" textLength="70.2" lengthAdjust="spacingAndGlyphs">Крупи гречані</text>
<line x1="217.5" y1="494.3" x2="222.3" y2="494.3" stroke="#333" stroke-width="1.2"/>
<text x="214.8" y="496.8" font-size="11" fill="#404040" text-anchor="end" textLength="61.9" lengthAdjust="spacingAndGlyphs">Крупи манні</text>
<line x1="217.5" y1="512.8" x2="222.3" y2="512.8" stroke="#333" stroke-width="1.2"/>
<text x="214.8" y="515.2" font-size="11" fill="#404040" text-anchor="end" textLength="82.1" lengthAdjust="spacingAndGlyphs">Крупи пшеничні</text>
<line x1="217.5" y1="531.2" x2="222.3" y2="531.2" stroke="#333" stroke-width="1.2"/>
<text x="214.8" y="533.7" font-size="11" fill="#404040" text-anchor="end" textLength="53.7" lengthAdjust="spacingAndGlyphs">Крупи ячні</text>
<line x1="217.5" y1="549.6" x2="222.3" y2="549.6" stroke="#333" stroke-width="1.2"/>
<text x="214.8" y="547.8" font-size="11" fill="#404040" text-anchor="end" textLength="172.1" lengthAdjust="spacingAndGlyphs">Макаронні вироби з м’яких сортів</text>
<text x="214.8" y="554.9" font-size="11" fill="#404040" text-anchor="end" textLength="42.6" lengthAdjust="spacingAndGlyphs">пшениці</text>
<text x="595.8" y="355.5" font-size="8.8" fill="#8a8a8a" stroke="#fff" stroke-width="2" paint-order="stroke" lengthAdjust="spacingAndGlyphs" textLength="51">Миколаївська</text>
<text x="771" y="355.5" font-size="8.8" fill="#8a8a8a" stroke="#fff" stroke-width="2" paint-order="stroke" lengthAdjust="spacingAndGlyphs" textLength="24.5">м. Київ</text>
<text x="606" y="484.8" font-size="8.8" fill="#8a8a8a" stroke="#fff" stroke-width="2" paint-order="stroke" lengthAdjust="spacingAndGlyphs" textLength="51">Хмельницька</text>
<text x="610" y="503.3" font-size="8.8" fill="#8a8a8a" stroke="#fff" stroke-width="2" paint-order="stroke" lengthAdjust="spacingAndGlyphs" textLength="40.4">Запорізька</text>
</svg></body></html>
